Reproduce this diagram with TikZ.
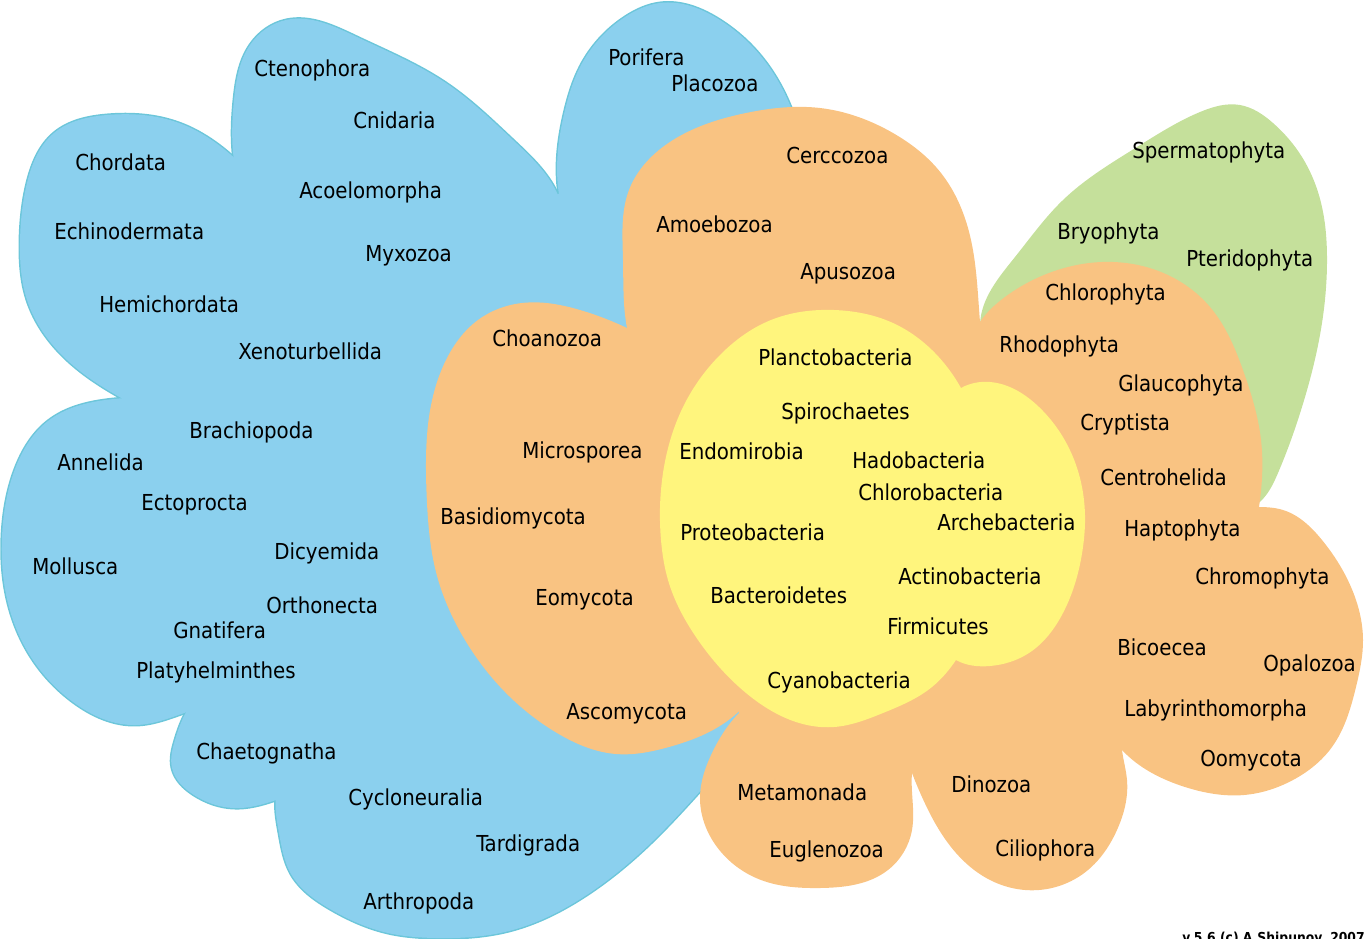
\documentclass[tikz,border=0pt]{standalone}
\usepackage{fontspec}
\usetikzlibrary{hobby}
\setmainfont{DejaVu Sans Condensed}
\definecolor{bluefill}{HTML}{8BD0EE}
\definecolor{blueline}{HTML}{6CC6DA}
\definecolor{orangefill}{HTML}{F9C382}
\definecolor{yellowfill}{HTML}{FFF57D}
\definecolor{greenfill}{HTML}{C5E09B}
\newcommand\BlueLobes{%
 \path plot[closed hobby] coordinates {(565,110) (580,67) (625,17) (660,3) (720,20) (760,55) (792,110) (805,200) (740,300) (620,290) (560,200)};
 \path plot[closed hobby] coordinates {(234,100) (250,45) (286,20) (357,37) (446,83) (513,140) (560,200) (540,290) (420,320) (290,260) (238,180)};
 \path plot[closed hobby] coordinates {(27,183) (54,133) (107,115) (179,123) (245,168) (300,260) (270,380) (180,420) (125,400) (67,360) (27,300) (20,243)};
 \path plot[closed hobby] coordinates {(15,469) (48,421) (125,398) (220,410) (290,500) (290,620) (240,690) (187,712) (136,725) (73,702) (29,654) (7,599) (2,537)};
 \path plot[closed hobby] coordinates {(172,768) (175,740) (195,700) (250,680) (310,710) (315,775) (276,800) (233,808) (194,795)};
 \path plot[closed hobby] coordinates {(279,833) (291,874) (330,909) (388,933) (436,938) (509,931) (582,898) (654,840) (703,788) (740,712) (700,660) (500,680) (320,740) (277,790)};
}
\begin{document}
\begin{tikzpicture}[x=0.75pt,y=-0.75pt,
  lbl/.style={anchor=west,inner sep=0pt,font=\fontsize{16.5}{19}\selectfont}]
\useasboundingbox (0,0) rectangle (1364,939);
% blue (animals)
\begin{scope}[every path/.style={draw=blueline,line width=2.2pt}]
 \BlueLobes
\end{scope}
\begin{scope}[every path/.style={fill=bluefill}]
 \BlueLobes
 \path (240,175) -- (555,195) -- (790,120) -- (800,350) -- (745,712) -- (600,800) -- (276,799) -- (187,711) -- (125,400) -- cycle;
\end{scope}
% green (plants)
\fill[greenfill] plot[closed hobby] coordinates {(980,325) (1015,257) (1063,200) (1137,147) (1200,112) (1240,105) (1273,123) (1302,157) (1322,207) (1327,257) (1322,323) (1302,407) (1278,473) (1256,505) (1150,470) (1030,400)};
% orange (protists + fungi)
\begin{scope}[every path/.style={fill=orangefill}]
 \path plot[closed hobby] coordinates {(426,470) (429,417) (446,360) (478,320) (522,303) (580,310) (627,328) (700,380) (760,520) (745,705) (713,730) (669,747) (616,754) (557,733) (509,696) (465,640) (436,572) (427,503)};
 \path plot[closed hobby] coordinates {(623,260) (629,190) (673,140) (746,113) (820,108) (893,133) (941,173) (971,240) (980,322) (975,400) (900,460) (680,420) (627,328)};
 \path plot[closed hobby] coordinates {(1049,273) (1102,262) (1161,272) (1210,307) (1244,373) (1261,440) (1259,507) (1220,600) (1080,620) (990,500) (965,380) (978,325) (1005,297)};
 \path plot[closed hobby] coordinates {(1283,510) (1322,540) (1351,587) (1363,640) (1356,687) (1332,747) (1293,780) (1244,795) (1185,787) (1122,750) (1090,680) (1120,560) (1200,515) (1259,507)};
 \path plot[closed hobby] coordinates {(1122,750) (1127,780) (1117,830) (1088,870) (1039,890) (990,880) (951,847) (922,797) (912,773) (905,720) (960,670) (1080,670) (1115,700)};
 \path plot[closed hobby] coordinates {(912,773) (912,830) (888,870) (820,888) (761,880) (717,847) (700,797) (712,753) (739,713) (800,680) (890,700) (915,740)};
 \path (627,328) -- (980,322) -- (1259,507) -- (1122,750) -- (912,773) -- (739,713) -- cycle;
\end{scope}
% yellow (bacteria)
\begin{scope}[every path/.style={fill=yellowfill}]
 \path plot[closed hobby] coordinates {(834,310) (893,323) (932,350) (961,388) (990,500) (956,660) (932,687) (883,713) (834,727) (746,693) (698,640) (668,580) (661,540) (663,473) (683,407) (722,353) (771,320)};
 \path plot[closed hobby] coordinates {(961,388) (990,382) (1039,407) (1073,457) (1085,523) (1083,547) (1063,613) (1029,653) (990,666) (956,660) (925,610) (915,500) (930,430)};
\end{scope}
% labels
\node[lbl] (porifera) at (608,57) {Porifera};
\node[lbl] (placozoa) at (671,83) {Placozoa};
\node[lbl] (ctenophora) at (254,70) {Ctenophora};
\node[lbl] (cnidaria) at (353,120) {Cnidaria};
\node[lbl] (chordata) at (75,162) {Chordata};
\node[lbl] (acoelomorpha) at (299,192) {Acoelomorpha};
\node[lbl] (echinodermata) at (54,231) {Echinodermata};
\node[lbl] (myxozoa) at (365,256) {Myxozoa};
\node[lbl] (hemichordata) at (99,304) {Hemichordata};
\node[lbl] (xenoturbellida) at (238,351) {Xenoturbellida};
\node[lbl] (brachiopoda) at (189,432) {Brachiopoda};
\node[lbl] (annelida) at (57,462) {Annelida};
\node[lbl] (ectoprocta) at (141,505) {Ectoprocta};
\node[lbl] (dicyemida) at (274,553) {Dicyemida};
\node[lbl] (mollusca) at (32,566) {Mollusca};
\node[lbl] (orthonecta) at (266,605) {Orthonecta};
\node[lbl] (gnatifera) at (173,630) {Gnatifera};
\node[lbl] (platyhelminthes) at (136,672) {Platyhelminthes};
\node[lbl] (chaetognatha) at (196,753) {Chaetognatha};
\node[lbl] (cycloneuralia) at (348,799) {Cycloneuralia};
\node[lbl] (tardigrada) at (476,845) {Tardigrada};
\node[lbl] (arthropoda) at (363,903) {Arthropoda};
\node[lbl] (choanozoa) at (492,338) {Choanozoa};
\node[lbl] (microsporea) at (522,452) {Microsporea};
\node[lbl] (basidiomycota) at (440,518) {Basidiomycota};
\node[lbl] (eomycota) at (535,600) {Eomycota};
\node[lbl] (ascomycota) at (566,714) {Ascomycota};
\node[lbl] (cerccozoa) at (786,155) {Cerccozoa};
\node[lbl] (amoebozoa) at (656,224) {Amoebozoa};
\node[lbl] (apusozoa) at (800,274) {Apusozoa};
\node[lbl] (planctobacteria) at (758,357) {Planctobacteria};
\node[lbl] (spirochaetes) at (781,413) {Spirochaetes};
\node[lbl] (endomirobia) at (679,451) {Endomirobia};
\node[lbl] (hadobacteria) at (852,460) {Hadobacteria};
\node[lbl] (chlorobacteria) at (858,492) {Chlorobacteria};
\node[lbl] (proteobacteria) at (680,532) {Proteobacteria};
\node[lbl] (archebacteria) at (937,522) {Archebacteria};
\node[lbl] (actinobacteria) at (898,576) {Actinobacteria};
\node[lbl] (bacteroidetes) at (710,595) {Bacteroidetes};
\node[lbl] (firmicutes) at (887,626) {Firmicutes};
\node[lbl] (cyanobacteria) at (767,682) {Cyanobacteria};
\node[lbl] (spermatophyta) at (1132,152) {Spermatophyta};
\node[lbl] (bryophyta) at (1057,233) {Bryophyta};
\node[lbl] (pteridophyta) at (1186,260) {Pteridophyta};
\node[lbl] (chlorophyta) at (1045,294) {Chlorophyta};
\node[lbl] (rhodophyta) at (999,346) {Rhodophyta};
\node[lbl] (glaucophyta) at (1118,385) {Glaucophyta};
\node[lbl] (cryptista) at (1080,424) {Cryptista};
\node[lbl] (centrohelida) at (1100,477) {Centrohelida};
\node[lbl] (haptophyta) at (1124,530) {Haptophyta};
\node[lbl] (chromophyta) at (1195,578) {Chromophyta};
\node[lbl] (bicoecea) at (1117,647) {Bicoecea};
\node[lbl] (opalozoa) at (1263,665) {Opalozoa};
\node[lbl] (labyrinthomorpha) at (1124,710) {Labyrinthomorpha};
\node[lbl] (oomycota) at (1200,761) {Oomycota};
\node[lbl] (metamonada) at (737,792) {Metamonada};
\node[lbl] (euglenozoa) at (769,851) {Euglenozoa};
\node[lbl] (dinozoa) at (951,784) {Dinozoa};
\node[lbl] (ciliophora) at (995,850) {Ciliophora};
\node[anchor=base west,inner sep=0pt,font=\fontsize{10.3}{12}\selectfont\bfseries] (credit) at (1182,942) {v.5.6 (c) A.Shipunov, 2007};
\end{tikzpicture}
\end{document}
